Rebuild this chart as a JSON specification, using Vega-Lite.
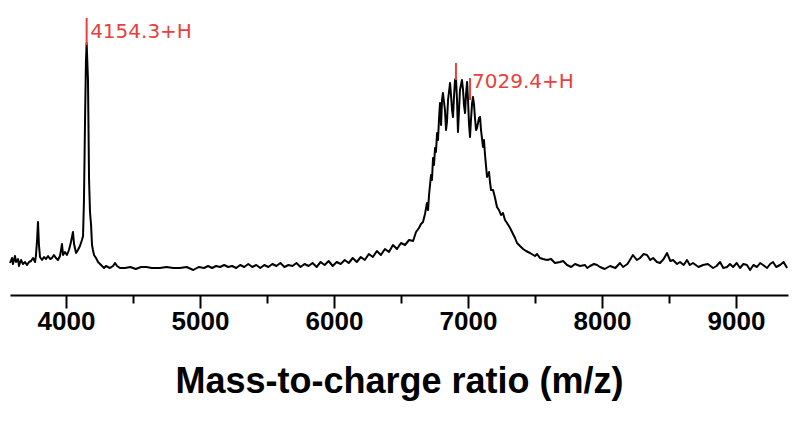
{
  "$schema": "https://vega.github.io/schema/vega-lite/v6.json",
  "width": 778,
  "height": 285,
  "autosize": {"type": "none"},
  "padding": {"left": 10, "top": 10, "right": 12, "bottom": 131},
  "background": "white",
  "config": {"view": {"stroke": null}},
  "datasets": {
    "spectrum": [
      {"mz": 3582, "intensity": 32}, {"mz": 3597, "intensity": 37}, {"mz": 3604, "intensity": 31}, {"mz": 3619, "intensity": 39},
      {"mz": 3627, "intensity": 33}, {"mz": 3642, "intensity": 36}, {"mz": 3649, "intensity": 29}, {"mz": 3664, "intensity": 35},
      {"mz": 3679, "intensity": 31}, {"mz": 3694, "intensity": 33}, {"mz": 3709, "intensity": 30}, {"mz": 3724, "intensity": 33},
      {"mz": 3739, "intensity": 34}, {"mz": 3754, "intensity": 37}, {"mz": 3769, "intensity": 33}, {"mz": 3776, "intensity": 40},
      {"mz": 3784, "intensity": 55}, {"mz": 3791, "intensity": 73}, {"mz": 3798, "intensity": 50}, {"mz": 3806, "intensity": 38},
      {"mz": 3821, "intensity": 35}, {"mz": 3836, "intensity": 38}, {"mz": 3851, "intensity": 36}, {"mz": 3866, "intensity": 39},
      {"mz": 3881, "intensity": 36}, {"mz": 3895, "intensity": 37}, {"mz": 3910, "intensity": 40}, {"mz": 3925, "intensity": 37},
      {"mz": 3940, "intensity": 35}, {"mz": 3955, "intensity": 39}, {"mz": 3963, "intensity": 45}, {"mz": 3970, "intensity": 51},
      {"mz": 3978, "intensity": 40}, {"mz": 3992, "intensity": 43}, {"mz": 4007, "intensity": 40}, {"mz": 4022, "intensity": 45},
      {"mz": 4037, "intensity": 53}, {"mz": 4052, "intensity": 63}, {"mz": 4060, "intensity": 51}, {"mz": 4075, "intensity": 42},
      {"mz": 4089, "intensity": 45}, {"mz": 4104, "intensity": 49}, {"mz": 4119, "intensity": 55}, {"mz": 4127, "intensity": 59},
      {"mz": 4134, "intensity": 95}, {"mz": 4142, "intensity": 175}, {"mz": 4149, "intensity": 235}, {"mz": 4154, "intensity": 252},
      {"mz": 4164, "intensity": 215}, {"mz": 4172, "intensity": 115}, {"mz": 4179, "intensity": 83}, {"mz": 4187, "intensity": 70},
      {"mz": 4194, "intensity": 50}, {"mz": 4201, "intensity": 45}, {"mz": 4209, "intensity": 40}, {"mz": 4224, "intensity": 37},
      {"mz": 4239, "intensity": 33}, {"mz": 4254, "intensity": 31}, {"mz": 4269, "intensity": 29}, {"mz": 4284, "intensity": 27},
      {"mz": 4298, "intensity": 29}, {"mz": 4313, "intensity": 28}, {"mz": 4328, "intensity": 27}, {"mz": 4351, "intensity": 29},
      {"mz": 4366, "intensity": 32}, {"mz": 4381, "intensity": 29}, {"mz": 4403, "intensity": 27}, {"mz": 4440, "intensity": 27},
      {"mz": 4480, "intensity": 28}, {"mz": 4520, "intensity": 26}, {"mz": 4560, "intensity": 28}, {"mz": 4600, "intensity": 28},
      {"mz": 4640, "intensity": 27}, {"mz": 4700, "intensity": 27}, {"mz": 4750, "intensity": 28}, {"mz": 4800, "intensity": 27},
      {"mz": 4850, "intensity": 27}, {"mz": 4900, "intensity": 28}, {"mz": 4950, "intensity": 25}, {"mz": 4990, "intensity": 28},
      {"mz": 5030, "intensity": 27}, {"mz": 5060, "intensity": 29}, {"mz": 5090, "intensity": 27}, {"mz": 5120, "intensity": 29},
      {"mz": 5150, "intensity": 28}, {"mz": 5180, "intensity": 30}, {"mz": 5210, "intensity": 28}, {"mz": 5240, "intensity": 29},
      {"mz": 5270, "intensity": 27}, {"mz": 5300, "intensity": 30}, {"mz": 5330, "intensity": 28}, {"mz": 5360, "intensity": 31},
      {"mz": 5390, "intensity": 28}, {"mz": 5420, "intensity": 30}, {"mz": 5450, "intensity": 27}, {"mz": 5480, "intensity": 30},
      {"mz": 5510, "intensity": 28}, {"mz": 5540, "intensity": 31}, {"mz": 5570, "intensity": 29}, {"mz": 5600, "intensity": 32},
      {"mz": 5630, "intensity": 28}, {"mz": 5660, "intensity": 30}, {"mz": 5690, "intensity": 29}, {"mz": 5720, "intensity": 32},
      {"mz": 5750, "intensity": 28}, {"mz": 5780, "intensity": 31}, {"mz": 5810, "intensity": 29}, {"mz": 5840, "intensity": 32},
      {"mz": 5870, "intensity": 28}, {"mz": 5900, "intensity": 33}, {"mz": 5930, "intensity": 30}, {"mz": 5960, "intensity": 34},
      {"mz": 5990, "intensity": 29}, {"mz": 6020, "intensity": 33}, {"mz": 6050, "intensity": 31}, {"mz": 6080, "intensity": 35},
      {"mz": 6110, "intensity": 32}, {"mz": 6140, "intensity": 37}, {"mz": 6170, "intensity": 33}, {"mz": 6200, "intensity": 38},
      {"mz": 6230, "intensity": 35}, {"mz": 6260, "intensity": 41}, {"mz": 6290, "intensity": 38}, {"mz": 6320, "intensity": 44},
      {"mz": 6350, "intensity": 40}, {"mz": 6380, "intensity": 46}, {"mz": 6410, "intensity": 43}, {"mz": 6440, "intensity": 50},
      {"mz": 6470, "intensity": 46}, {"mz": 6500, "intensity": 52}, {"mz": 6530, "intensity": 50}, {"mz": 6560, "intensity": 55},
      {"mz": 6590, "intensity": 54}, {"mz": 6612, "intensity": 63}, {"mz": 6634, "intensity": 67}, {"mz": 6649, "intensity": 71},
      {"mz": 6664, "intensity": 73}, {"mz": 6679, "intensity": 81}, {"mz": 6694, "intensity": 92}, {"mz": 6702, "intensity": 85},
      {"mz": 6709, "intensity": 100}, {"mz": 6724, "intensity": 120}, {"mz": 6731, "intensity": 115}, {"mz": 6739, "intensity": 137},
      {"mz": 6746, "intensity": 130}, {"mz": 6754, "intensity": 147}, {"mz": 6761, "intensity": 143}, {"mz": 6769, "intensity": 162},
      {"mz": 6776, "intensity": 155}, {"mz": 6784, "intensity": 177}, {"mz": 6791, "intensity": 192}, {"mz": 6799, "intensity": 170},
      {"mz": 6806, "intensity": 195}, {"mz": 6813, "intensity": 202}, {"mz": 6828, "intensity": 185}, {"mz": 6836, "intensity": 165},
      {"mz": 6843, "intensity": 173}, {"mz": 6851, "intensity": 195}, {"mz": 6866, "intensity": 212}, {"mz": 6873, "intensity": 200},
      {"mz": 6881, "intensity": 185}, {"mz": 6888, "intensity": 178}, {"mz": 6896, "intensity": 200}, {"mz": 6903, "intensity": 215},
      {"mz": 6910, "intensity": 217}, {"mz": 6918, "intensity": 195}, {"mz": 6925, "intensity": 163}, {"mz": 6933, "intensity": 185},
      {"mz": 6940, "intensity": 205}, {"mz": 6955, "intensity": 215}, {"mz": 6963, "intensity": 205}, {"mz": 6970, "intensity": 190},
      {"mz": 6978, "intensity": 182}, {"mz": 6985, "intensity": 200}, {"mz": 6993, "intensity": 213}, {"mz": 7000, "intensity": 195},
      {"mz": 7008, "intensity": 170}, {"mz": 7015, "intensity": 158}, {"mz": 7022, "intensity": 175}, {"mz": 7030, "intensity": 191},
      {"mz": 7037, "intensity": 198}, {"mz": 7045, "intensity": 190}, {"mz": 7052, "intensity": 177}, {"mz": 7060, "intensity": 165},
      {"mz": 7067, "intensity": 167}, {"mz": 7082, "intensity": 177}, {"mz": 7090, "intensity": 178}, {"mz": 7097, "intensity": 165},
      {"mz": 7112, "intensity": 148}, {"mz": 7119, "intensity": 155}, {"mz": 7127, "intensity": 140}, {"mz": 7142, "intensity": 118},
      {"mz": 7157, "intensity": 123}, {"mz": 7164, "intensity": 113}, {"mz": 7172, "intensity": 105}, {"mz": 7187, "intensity": 105},
      {"mz": 7202, "intensity": 97}, {"mz": 7216, "intensity": 88}, {"mz": 7231, "intensity": 85}, {"mz": 7246, "intensity": 80},
      {"mz": 7261, "intensity": 82}, {"mz": 7276, "intensity": 75}, {"mz": 7291, "intensity": 72}, {"mz": 7314, "intensity": 67},
      {"mz": 7336, "intensity": 61}, {"mz": 7351, "intensity": 57}, {"mz": 7366, "intensity": 52}, {"mz": 7388, "intensity": 49},
      {"mz": 7411, "intensity": 46}, {"mz": 7433, "intensity": 44}, {"mz": 7463, "intensity": 42}, {"mz": 7500, "intensity": 39},
      {"mz": 7515, "intensity": 41}, {"mz": 7537, "intensity": 37}, {"mz": 7560, "intensity": 36}, {"mz": 7590, "intensity": 35},
      {"mz": 7620, "intensity": 36}, {"mz": 7649, "intensity": 32}, {"mz": 7687, "intensity": 33}, {"mz": 7710, "intensity": 34},
      {"mz": 7739, "intensity": 30}, {"mz": 7770, "intensity": 28}, {"mz": 7799, "intensity": 31}, {"mz": 7836, "intensity": 29},
      {"mz": 7873, "intensity": 30}, {"mz": 7890, "intensity": 27}, {"mz": 7911, "intensity": 29}, {"mz": 7940, "intensity": 31},
      {"mz": 7963, "intensity": 30}, {"mz": 7985, "intensity": 28}, {"mz": 8020, "intensity": 26}, {"mz": 8060, "intensity": 29},
      {"mz": 8100, "intensity": 27}, {"mz": 8134, "intensity": 32}, {"mz": 8157, "intensity": 28}, {"mz": 8190, "intensity": 31},
      {"mz": 8231, "intensity": 40}, {"mz": 8260, "intensity": 35}, {"mz": 8284, "intensity": 37}, {"mz": 8310, "intensity": 41},
      {"mz": 8336, "intensity": 40}, {"mz": 8360, "intensity": 35}, {"mz": 8381, "intensity": 37}, {"mz": 8410, "intensity": 33},
      {"mz": 8433, "intensity": 32}, {"mz": 8460, "intensity": 36}, {"mz": 8485, "intensity": 42}, {"mz": 8510, "intensity": 34},
      {"mz": 8530, "intensity": 35}, {"mz": 8560, "intensity": 31}, {"mz": 8582, "intensity": 33}, {"mz": 8610, "intensity": 30},
      {"mz": 8634, "intensity": 35}, {"mz": 8655, "intensity": 30}, {"mz": 8679, "intensity": 32}, {"mz": 8720, "intensity": 28},
      {"mz": 8754, "intensity": 30}, {"mz": 8790, "intensity": 31}, {"mz": 8829, "intensity": 27}, {"mz": 8855, "intensity": 29},
      {"mz": 8881, "intensity": 33}, {"mz": 8905, "intensity": 27}, {"mz": 8933, "intensity": 28}, {"mz": 8955, "intensity": 31},
      {"mz": 8978, "intensity": 28}, {"mz": 9005, "intensity": 32}, {"mz": 9030, "intensity": 27}, {"mz": 9055, "intensity": 31},
      {"mz": 9082, "intensity": 30}, {"mz": 9105, "intensity": 25}, {"mz": 9130, "intensity": 30}, {"mz": 9157, "intensity": 28},
      {"mz": 9180, "intensity": 32}, {"mz": 9202, "intensity": 30}, {"mz": 9232, "intensity": 27}, {"mz": 9255, "intensity": 31},
      {"mz": 9276, "intensity": 33}, {"mz": 9300, "intensity": 28}, {"mz": 9329, "intensity": 30}, {"mz": 9355, "intensity": 33},
      {"mz": 9381, "intensity": 27}
    ],
    "markers": [
      {"mz": 4154, "lo": 250, "hi": 277},
      {"mz": 6910, "lo": 215, "hi": 232},
      {"mz": 7015, "lo": 195, "hi": 217}
    ],
    "labels": [
      {"mz": 4180, "intensity": 263, "label": "4154.3+H"},
      {"mz": 7030, "intensity": 213, "label": "7029.4+H"}
    ]
  },
  "resolve": {"scale": {"x": "shared", "y": "shared"}},
  "layer": [
    {
      "data": {"name": "spectrum"},
      "mark": {"type": "line", "color": "black", "strokeWidth": 2, "strokeJoin": "round"},
      "encoding": {
        "x": {
          "field": "mz", "type": "quantitative",
          "scale": {"domain": [3582, 9388], "nice": false, "zero": false},
          "axis": {
            "title": "Mass-to-charge ratio (m/z)",
            "values": [4000, 4500, 5000, 5500, 6000, 6500, 7000, 7500, 8000, 8500, 9000],
            "format": "d",
            "labelExpr": "datum.value % 1000 === 0 ? datum.label : ''",
            "grid": false,
            "domainColor": "black", "domainWidth": 2,
            "tickColor": "black", "tickWidth": 2,
            "tickSize": {"condition": {"test": "datum.value % 1000 === 0", "value": 13}, "value": 8},
            "labelFont": "Liberation Sans", "labelFontSize": 26, "labelFontWeight": "bold", "labelColor": "black",
            "labelPadding": 0, "labelOverlap": false, "labelFlush": false,
            "titleFont": "Liberation Sans", "titleFontSize": 36, "titleFontWeight": "bold", "titleColor": "black",
            "titlePadding": 30
          }
        },
        "y": {"field": "intensity", "type": "quantitative", "scale": {"domain": [0, 285], "nice": false, "zero": false}, "axis": null}
      }
    },
    {
      "data": {"name": "markers"},
      "mark": {"type": "rule", "color": "#e8413c", "strokeWidth": 2},
      "encoding": {
        "x": {"field": "mz", "type": "quantitative", "scale": {"domain": [3582, 9388], "nice": false, "zero": false}},
        "y": {"field": "lo", "type": "quantitative", "scale": {"domain": [0, 285], "nice": false, "zero": false}},
        "y2": {"field": "hi"}
      }
    },
    {
      "data": {"name": "labels"},
      "mark": {"type": "text", "align": "left", "baseline": "middle", "font": "DejaVu Sans", "fontSize": 20, "color": "#e8413c"},
      "encoding": {
        "x": {"field": "mz", "type": "quantitative", "scale": {"domain": [3582, 9388], "nice": false, "zero": false}},
        "y": {"field": "intensity", "type": "quantitative", "scale": {"domain": [0, 285], "nice": false, "zero": false}},
        "text": {"field": "label"}
      }
    }
  ]
}
